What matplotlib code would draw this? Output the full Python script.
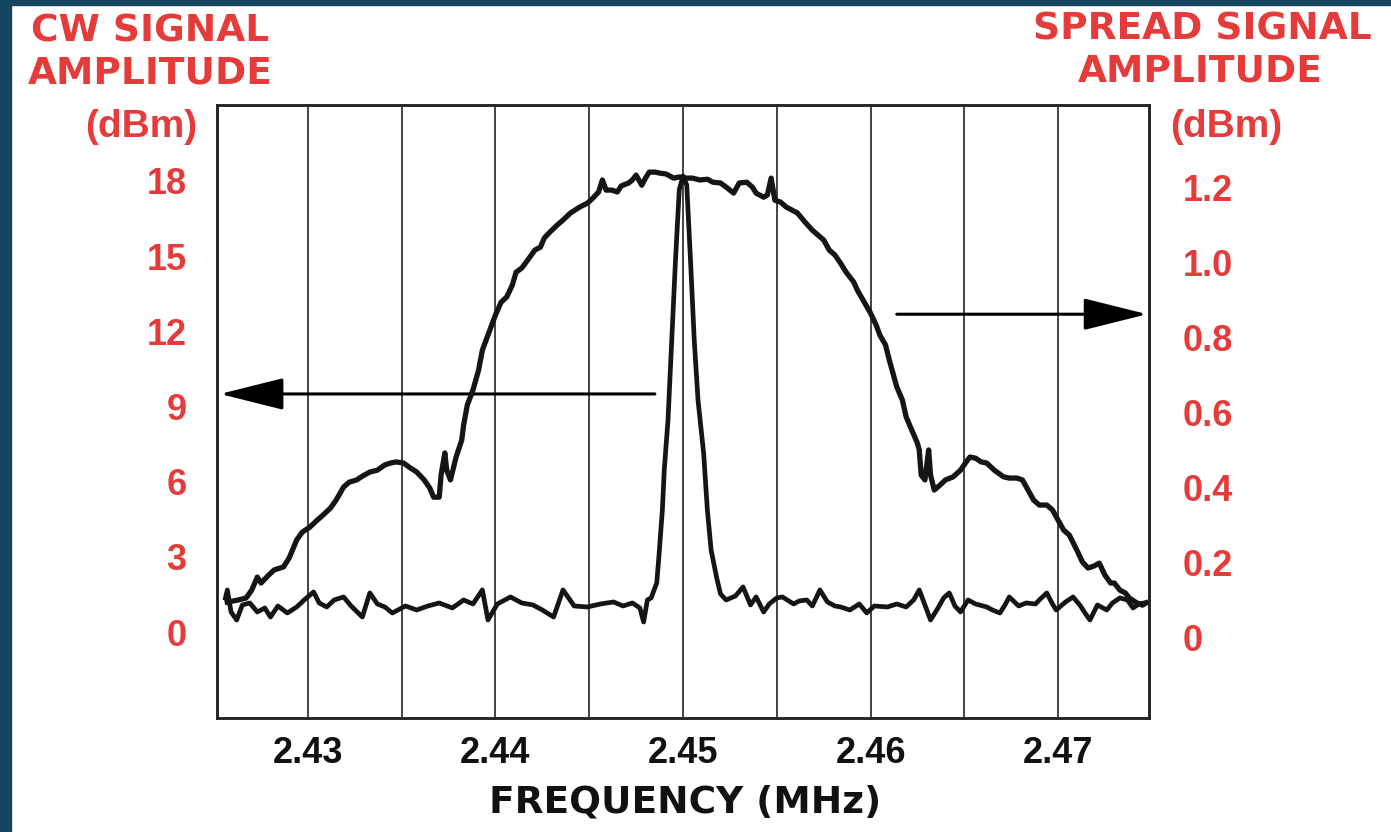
import matplotlib
matplotlib.use("Agg")
import matplotlib.pyplot as plt
from matplotlib.patches import Rectangle

# === DATA ===
# CW carrier, left axis (dBm)
cw_freq = [2.4256, 2.4257, 2.4259, 2.4262, 2.4265, 2.4269, 2.4273, 2.4277, 2.4280, 2.4284,
           2.4289, 2.4294, 2.4298, 2.4303, 2.4306, 2.4310, 2.4314, 2.4319, 2.4323, 2.4329,
           2.4333, 2.4337, 2.4341, 2.4345, 2.4352, 2.4358, 2.4364, 2.4370, 2.4377, 2.4383,
           2.4388, 2.4393, 2.4396, 2.4401, 2.4408, 2.4414, 2.4420, 2.4425, 2.4431, 2.4436,
           2.4442, 2.4449, 2.4456, 2.4463, 2.4468, 2.4473, 2.4477, 2.4479, 2.4481, 2.4483,
           2.4486, 2.4487, 2.4489, 2.4490, 2.4492, 2.4494, 2.4496, 2.4498, 2.4500, 2.4502,
           2.4504, 2.4506, 2.4508, 2.4511, 2.4513, 2.4515, 2.4518, 2.4520, 2.4523, 2.4528,
           2.4532, 2.4536, 2.4539, 2.4543, 2.4546, 2.4550, 2.4553, 2.4559, 2.4562, 2.4566,
           2.4569, 2.4573, 2.4577, 2.4581, 2.4584, 2.4589, 2.4594, 2.4598, 2.4602, 2.4609,
           2.4614, 2.4619, 2.4623, 2.4626, 2.4629, 2.4632, 2.4636, 2.4639, 2.4642, 2.4645,
           2.4648, 2.4652, 2.4656, 2.4662, 2.4665, 2.4669, 2.4672, 2.4674, 2.4679, 2.4683,
           2.4688, 2.4690, 2.4694, 2.4697, 2.4699, 2.4704, 2.4708, 2.4712, 2.4714, 2.4717,
           2.4721, 2.4726, 2.4729, 2.4733, 2.4737, 2.4740, 2.4743, 2.4746]
cw_dbm = [1.36, 1.68, 0.80, 0.48, 1.08, 1.16, 0.80, 0.96, 0.60, 1.04,
          0.76, 1.00, 1.28, 1.60, 1.16, 1.00, 1.28, 1.40, 1.04, 0.60,
          1.56, 1.12, 1.00, 0.76, 1.04, 0.88, 1.04, 1.16, 0.96, 1.28,
          1.12, 1.68, 0.48, 1.12, 1.40, 1.16, 1.08, 0.88, 0.60, 1.68,
          1.04, 1.00, 1.12, 1.20, 1.04, 1.16, 0.96, 0.40, 1.28, 1.36,
          1.96, 2.87, 4.87, 6.46, 8.46, 11.65, 14.84, 17.64, 18.20, 17.84,
          14.84, 11.65, 9.26, 7.14, 4.87, 3.27, 2.15, 1.52, 1.28, 1.44,
          1.80, 1.08, 1.40, 0.80, 1.12, 1.36, 1.40, 1.12, 1.24, 1.28,
          1.04, 1.68, 1.20, 1.04, 1.00, 0.88, 1.12, 0.76, 1.04, 1.00,
          1.12, 1.00, 1.28, 1.68, 1.08, 0.48, 0.96, 1.36, 1.56, 1.04,
          0.80, 1.28, 1.12, 1.00, 0.88, 0.76, 1.12, 1.40, 1.04, 1.16,
          1.12, 1.28, 1.56, 1.12, 0.88, 1.20, 1.40, 1.04, 0.80, 0.48,
          1.08, 0.88, 1.16, 1.36, 1.28, 0.96, 1.12, 1.16]

# spread signal, right axis (dBm)
spread_freq = [2.4257, 2.4263, 2.4267, 2.4270, 2.4273, 2.4275, 2.4279, 2.4282, 2.4287, 2.4290,
               2.4294, 2.4297, 2.4301, 2.4305, 2.4308, 2.4312, 2.4315, 2.4319, 2.4322, 2.4326,
               2.4329, 2.4333, 2.4337, 2.4341, 2.4344, 2.4347, 2.4351, 2.4354, 2.4358, 2.4362,
               2.4365, 2.4367, 2.4370, 2.4371, 2.4373, 2.4374, 2.4376, 2.4378, 2.4379, 2.4382,
               2.4383, 2.4385, 2.4388, 2.4391, 2.4393, 2.4397, 2.4400, 2.4403, 2.4406, 2.4409,
               2.4411, 2.4414, 2.4418, 2.4421, 2.4424, 2.4426, 2.4429, 2.4433, 2.4436, 2.4440,
               2.4445, 2.4449, 2.4452, 2.4455, 2.4457, 2.4459, 2.4462, 2.4465, 2.4467, 2.4471,
               2.4473, 2.4475, 2.4478, 2.4480, 2.4482, 2.4485, 2.4488, 2.4491, 2.4495, 2.4498,
               2.4502, 2.4505, 2.4509, 2.4513, 2.4516, 2.4520, 2.4523, 2.4527, 2.4530, 2.4534,
               2.4537, 2.4539, 2.4543, 2.4545, 2.4547, 2.4549, 2.4552, 2.4555, 2.4561, 2.4565,
               2.4569, 2.4572, 2.4575, 2.4578, 2.4581, 2.4584, 2.4587, 2.4591, 2.4593, 2.4596,
               2.4600, 2.4603, 2.4605, 2.4608, 2.4610, 2.4614, 2.4617, 2.4619, 2.4622, 2.4625,
               2.4626, 2.4627, 2.4629, 2.4631, 2.4632, 2.4634, 2.4637, 2.4640, 2.4644, 2.4648,
               2.4651, 2.4653, 2.4656, 2.4659, 2.4662, 2.4666, 2.4671, 2.4674, 2.4678, 2.4681,
               2.4684, 2.4687, 2.4690, 2.4694, 2.4697, 2.4700, 2.4703, 2.4706, 2.4710, 2.4713,
               2.4716, 2.4719, 2.4722, 2.4725, 2.4728, 2.4730, 2.4733, 2.4736, 2.4738, 2.4742,
               2.4745, 2.4747]
spread_amp = [0.093, 0.099, 0.104, 0.125, 0.160, 0.144, 0.165, 0.179, 0.187, 0.211,
              0.259, 0.280, 0.293, 0.312, 0.325, 0.344, 0.365, 0.400, 0.413, 0.419,
              0.429, 0.440, 0.445, 0.459, 0.464, 0.467, 0.464, 0.453, 0.440, 0.419,
              0.397, 0.373, 0.373, 0.432, 0.491, 0.445, 0.419, 0.459, 0.480, 0.525,
              0.565, 0.619, 0.659, 0.712, 0.765, 0.819, 0.859, 0.893, 0.907, 0.939,
              0.973, 0.984, 1.011, 1.032, 1.040, 1.064, 1.080, 1.099, 1.112, 1.131,
              1.147, 1.157, 1.171, 1.187, 1.219, 1.192, 1.192, 1.187, 1.203, 1.211,
              1.219, 1.232, 1.205, 1.224, 1.240, 1.240, 1.237, 1.235, 1.224, 1.227,
              1.224, 1.224, 1.219, 1.221, 1.213, 1.211, 1.200, 1.184, 1.211, 1.213,
              1.200, 1.184, 1.173, 1.179, 1.224, 1.165, 1.160, 1.147, 1.131, 1.107,
              1.085, 1.072, 1.059, 1.032, 1.019, 0.997, 0.973, 0.947, 0.925, 0.899,
              0.864, 0.832, 0.805, 0.779, 0.739, 0.667, 0.632, 0.587, 0.552, 0.517,
              0.499, 0.432, 0.419, 0.499, 0.432, 0.392, 0.405, 0.419, 0.427, 0.445,
              0.467, 0.480, 0.477, 0.467, 0.464, 0.445, 0.427, 0.424, 0.424, 0.419,
              0.392, 0.365, 0.352, 0.352, 0.339, 0.312, 0.285, 0.272, 0.232, 0.200,
              0.184, 0.189, 0.197, 0.165, 0.144, 0.144, 0.125, 0.117, 0.104, 0.091,
              0.085, 0.091]

x_ticks = [2.43, 2.44, 2.45, 2.46, 2.47]
x_grid = [2.430, 2.435, 2.440, 2.445, 2.450, 2.455, 2.460, 2.465, 2.470]
cw_ticks = [0, 3, 6, 9, 12, 15, 18]
spread_ticks = [0, 0.2, 0.4, 0.6, 0.8, 1.0, 1.2]
spread_labels = ["0", "0.2", "0.4", "0.6", "0.8", "1.0", "1.2"]

RED = "#e63b3b"
TRACE = "#151515"
W, H = 1391, 832

# === FIGURE ===
fig = plt.figure(figsize=(W / 100, H / 100), dpi=100)
fig.patch.set_facecolor("white")
# dark blue slide frame (left and top)
fig.patches.append(Rectangle((0, 0), 11 / W, 1, transform=fig.transFigure,
                             color="#14465f", zorder=0))
fig.patches.append(Rectangle((0, 1 - 5 / H), 1, 5 / H, transform=fig.transFigure,
                             color="#14465f", zorder=0))

ax = fig.add_axes([217 / W, 1 - 718 / H, (1149 - 217) / W, (718 - 105) / H])
ax2 = ax.twinx()

for g in x_grid:
    ax.axvline(g, color="#111111", lw=1.1, zorder=1)

ax.plot(cw_freq, cw_dbm, color=TRACE, lw=3.4, solid_joinstyle="round", zorder=3)
ax2.plot(spread_freq, spread_amp, color=TRACE, lw=3.8, solid_joinstyle="round", zorder=3)

ax.set_xlim(2.42515, 2.47485)
ax.set_ylim(-3.43, 21.03)
ax2.set_ylim(-0.216, 1.419)

ax.set_xticks(x_ticks)
ax.set_xticklabels([f"{t:.2f}" for t in x_ticks])
ax.set_yticks(cw_ticks)
ax.set_yticklabels([str(t) for t in cw_ticks])
ax2.set_yticks(spread_ticks)
ax2.set_yticklabels(spread_labels)

tick_font = dict(family="Liberation Sans", weight="bold", size=26)
for lab in ax.get_xticklabels():
    lab.set(**tick_font, color="#111111")
for lab in ax.get_yticklabels() + ax2.get_yticklabels():
    lab.set(**tick_font, color=RED)

ax.tick_params(axis="x", length=0, pad=13)
ax.tick_params(axis="y", length=0, pad=22)
ax2.tick_params(axis="y", length=0, pad=24)

for a in (ax, ax2):
    for s in a.spines.values():
        s.set_linewidth(1.8)
        s.set_color("#222222")

# arrows pointing at the axis each trace belongs to
ax.annotate("", xy=(2.42531, 9.5), xytext=(2.4485, 9.5),
            arrowprops=dict(arrowstyle="-|>,head_length=4.0,head_width=1.0",
                            mutation_scale=10, lw=2.2, color="black",
                            shrinkA=0, shrinkB=0), zorder=4)
ax2.annotate("", xy=(2.47475, 0.861), xytext=(2.4614, 0.861),
             arrowprops=dict(arrowstyle="-|>,head_length=4.0,head_width=1.0",
                             mutation_scale=10, lw=2.2, color="black",
                             shrinkA=0, shrinkB=0), zorder=4)

# === HEADERS ===
head_font = dict(family="DejaVu Sans", weight="bold", size=27, color=RED)
fig.text(150 / W, 1 - 32 / H, "CW SIGNAL", ha="center", va="center", **head_font)
fig.text(150 / W, 1 - 73 / H, "AMPLITUDE", ha="center", va="center", **head_font)
fig.text(197 / W, 1 - 127 / H, "(dBm)", ha="right", va="center",
         family="Liberation Sans", weight="bold", size=28, color=RED)

fig.text(1202 / W, 1 - 30 / H, "SPREAD SIGNAL", ha="center", va="center", **head_font)
fig.text(1200 / W, 1 - 72 / H, "AMPLITUDE", ha="center", va="center", **head_font)
fig.text(1170 / W, 1 - 127 / H, "(dBm)", ha="left", va="center",
         family="Liberation Sans", weight="bold", size=28, color=RED)

fig.text(685 / W, 1 - 802 / H, "FREQUENCY (MHz)", ha="center", va="center",
         family="DejaVu Sans", weight="bold", size=27, color="#111111")

fig.savefig("out.png", dpi=100)
